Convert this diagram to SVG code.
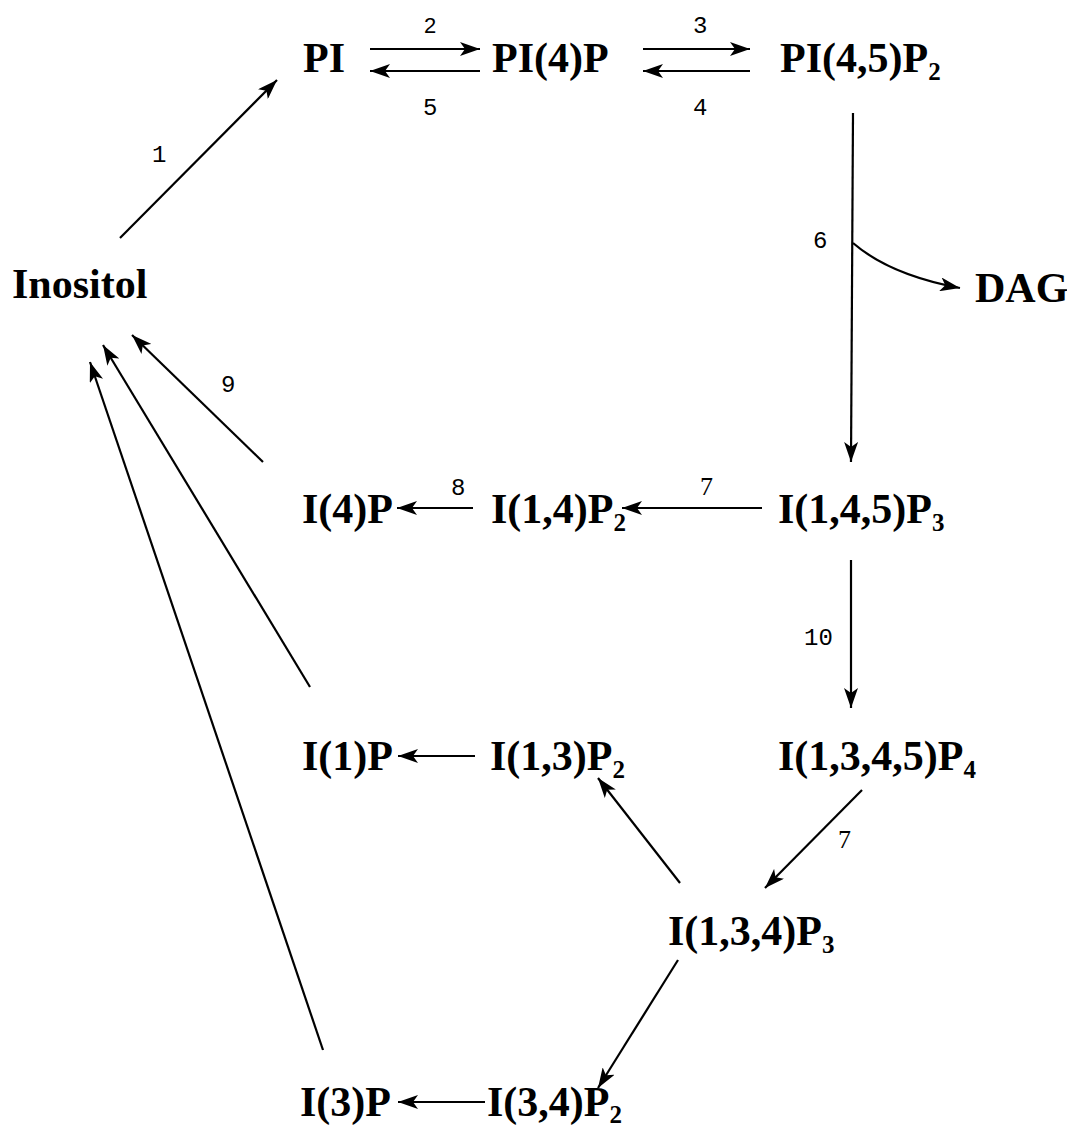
<svg xmlns="http://www.w3.org/2000/svg" width="1067" height="1129" viewBox="0 0 1067 1129">
<defs>
<marker id="ah" markerUnits="userSpaceOnUse" markerWidth="22" markerHeight="14" refX="20" refY="7" orient="auto">
<path d="M0,0 L20,7 L0,14 L5,7 Z" fill="#000"/>
</marker>
<style>
.n{font-family:"Liberation Serif","Times New Roman",serif;font-weight:bold;font-size:42px;fill:#000}
.s{font-size:25px}
.l{font-family:"Liberation Mono","Courier New",monospace;font-size:24px;fill:#000}
.t{font-family:"Liberation Serif","Times New Roman",serif;font-size:26px;fill:#000}
.c{stroke:#000;stroke-width:2.2;fill:none}
.a{marker-end:url(#ah)}
</style>
</defs>
<rect width="1067" height="1129" fill="#fff"/>
<g id="connectors">
<line class="c a" x1="120" y1="238" x2="277" y2="80"/>
<line class="c a" x1="370" y1="49" x2="480" y2="49"/>
<line class="c a" x1="480" y1="71" x2="370" y2="71"/>
<line class="c a" x1="643" y1="49" x2="750" y2="49"/>
<line class="c a" x1="750" y1="71" x2="643" y2="71"/>
<line class="c a" x1="853" y1="113" x2="851" y2="462"/>
<path class="c a" d="M853,243 Q890,275 960,288"/>
<line class="c a" x1="762" y1="508" x2="622" y2="508"/>
<line class="c a" x1="473" y1="508" x2="397" y2="508"/>
<line class="c a" x1="851" y1="560" x2="851" y2="708"/>
<line class="c a" x1="475" y1="756" x2="398" y2="756"/>
<line class="c a" x1="862" y1="790" x2="765" y2="888"/>
<line class="c a" x1="680" y1="883" x2="598" y2="778"/>
<line class="c a" x1="678" y1="960" x2="598" y2="1088"/>
<line class="c a" x1="485" y1="1102" x2="398" y2="1102"/>
<line class="c a" x1="263" y1="462" x2="132" y2="335"/>
<line class="c a" x1="310" y1="687" x2="103" y2="345"/>
<line class="c a" x1="323" y1="1050" x2="90" y2="362"/>
<text class="l" x="152" y="162">1</text>
<text x="424" y="33" style="font-family:'Liberation Sans',sans-serif;font-size:22px">2</text>
<text class="l" x="693" y="33">3</text>
<text class="l" x="423" y="115">5</text>
<text class="l" x="693" y="115">4</text>
<text class="l" x="813" y="248">6</text>
<text class="t" x="700" y="495">7</text>
<text class="l" x="451" y="495">8</text>
<text class="l" x="221" y="392">9</text>
<text class="l" x="804" y="645">10</text>
<text class="t" x="838" y="848">7</text>
</g>
<g id="n-pi"><text class="n" x="303" y="72">PI</text></g>
<g id="n-pi4p"><text class="n" x="492" y="72">PI(4)P</text></g>
<g id="n-pi45p2"><text class="n" x="780" y="72">PI(4,5)P<tspan class="s" dy="8">2</tspan></text></g>
<g id="n-inositol"><text class="n" x="12" y="298">Inositol</text></g>
<g id="n-dag"><text class="n" x="975" y="302">DAG</text></g>
<g id="n-i4p"><text class="n" x="302" y="523">I(4)P</text></g>
<g id="n-i14p2"><text class="n" x="491" y="523">I(1,4)P<tspan class="s" dy="8">2</tspan></text></g>
<g id="n-i145p3"><text class="n" x="778" y="523">I(1,4,5)P<tspan class="s" dy="8">3</tspan></text></g>
<g id="n-i1p"><text class="n" x="302" y="770">I(1)P</text></g>
<g id="n-i13p2"><text class="n" x="490" y="770">I(1,3)P<tspan class="s" dy="8">2</tspan></text></g>
<g id="n-i1345p4"><text class="n" x="778" y="770">I(1,3,4,5)P<tspan class="s" dy="8">4</tspan></text></g>
<g id="n-i134p3"><text class="n" x="668" y="945">I(1,3,4)P<tspan class="s" dy="8">3</tspan></text></g>
<g id="n-i3p"><text class="n" x="300" y="1116">I(3)P</text></g>
<g id="n-i34p2"><text class="n" x="487" y="1116">I(3,4)P<tspan class="s" dy="7">2</tspan></text></g>
</svg>
